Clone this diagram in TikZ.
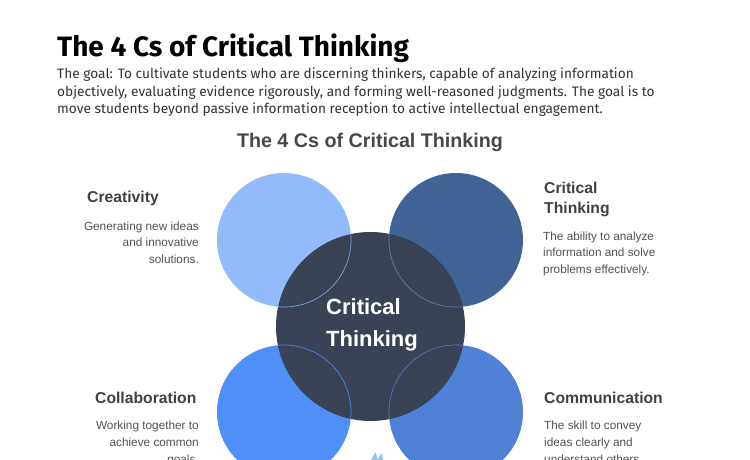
\documentclass[tikz,border=0pt]{standalone}
\usepackage{fontspec}
\setmainfont{Liberation Sans}
\newfontfamily\plex{Fira Sans}
\begin{document}
\begin{tikzpicture}[x=1pt,y=-1pt,
  ttl/.style={font=\plex\bfseries\fontsize{28}{32}\selectfont, anchor=base west, inner sep=0pt, text=black},
  para/.style={font=\plex\fontsize{13.7}{17.5}\selectfont, anchor=north west, inner sep=0pt, text=black!80, align=left},
  head/.style={font=\bfseries\fontsize{15.7}{20}\selectfont, inner sep=0pt, text=black!75},
  desc/.style={font=\fontsize{11.8}{16.2}\selectfont, inner sep=0pt, text=black!68},
  ring/.style={line width=0.7pt}
]
\useasboundingbox (0,0) rectangle (750,460);
\fill[white] (0,0) rectangle (750,460);
\definecolor{cTL}{HTML}{93BBFB}
\definecolor{cTR}{HTML}{416496}
\definecolor{cBL}{HTML}{4F8FF7}
\definecolor{cBR}{HTML}{4F82D6}
\definecolor{cC}{HTML}{3A4356}
\definecolor{cTri}{HTML}{8EC6EC}

\node[ttl] (title) at (57,57) {The 4 Cs of Critical Thinking};
\node[para] (goal) at (57,68) {The goal: To cultivate students who are discerning thinkers, capable of analyzing information\\objectively, evaluating evidence rigorously, and forming well-reasoned judgments. The goal is to\\move students beyond passive information reception to active intellectual engagement.};

\node[font=\bfseries\fontsize{19.7}{22}\selectfont, text=black!72, inner sep=0pt] (sub) at (370,142) {The 4 Cs of Critical Thinking};

% small fragment at bottom
\fill[cTri] (371,460) -- (375.5,452) -- (378,460) -- cycle;
\fill[cTri] (377,460) -- (382,453) -- (383,460) -- cycle;

% outer circles
\node[circle, fill=cTL, minimum size=134pt, inner sep=0pt] (tl) at (284,240) {};
\node[circle, fill=cTR, minimum size=134pt, inner sep=0pt] (tr) at (456,240) {};
\node[circle, fill=cBL, minimum size=134pt, inner sep=0pt] (bl) at (284,412) {};
\node[circle, fill=cBR, minimum size=134pt, inner sep=0pt] (br) at (456,412) {};
% center
\node[circle, fill=cC, minimum size=189pt, inner sep=0pt] (c) at (370.5,326.5) {};
\begin{scope}
\clip (370.5,326.5) circle (94.5);
\draw[ring, cTL!80!cC] (tl) circle (67);
\draw[ring, cTR!85!white] (tr) circle (67);
\draw[ring, cBL!85!cC] (bl) circle (67);
\draw[ring, cBR!85!cC] (br) circle (67);
\end{scope}
\node[font=\bfseries\fontsize{22}{32}\selectfont, text=white, align=left, inner sep=0pt, anchor=west] (ct) at (326,325) {Critical\\Thinking};

% labels
\node[head, anchor=west] (h1) at (87,198) {Creativity};
\node[desc, anchor=north east, align=right] (d1) at (199,222) {Generating new ideas\\and innovative\\solutions.};

\node[head, anchor=north west, align=left] (h2) at (544,182) {Critical\\Thinking};
\node[desc, anchor=north west, align=left] (d2) at (543,232) {The ability to analyze\\information and solve\\problems effectively.};

\node[head, anchor=west] (h3) at (95,398) {Collaboration};
\node[desc, anchor=north east, align=right, font=\fontsize{11.8}{17}\selectfont] (d3) at (199,421) {Working together to\\achieve common\\goals.};

\node[head, anchor=west] (h4) at (544,398) {Communication};
\node[desc, anchor=north west, align=left, font=\fontsize{11.8}{17}\selectfont] (d4) at (544,421) {The skill to convey\\ideas clearly and\\understand others.};
\end{tikzpicture}
\end{document}
